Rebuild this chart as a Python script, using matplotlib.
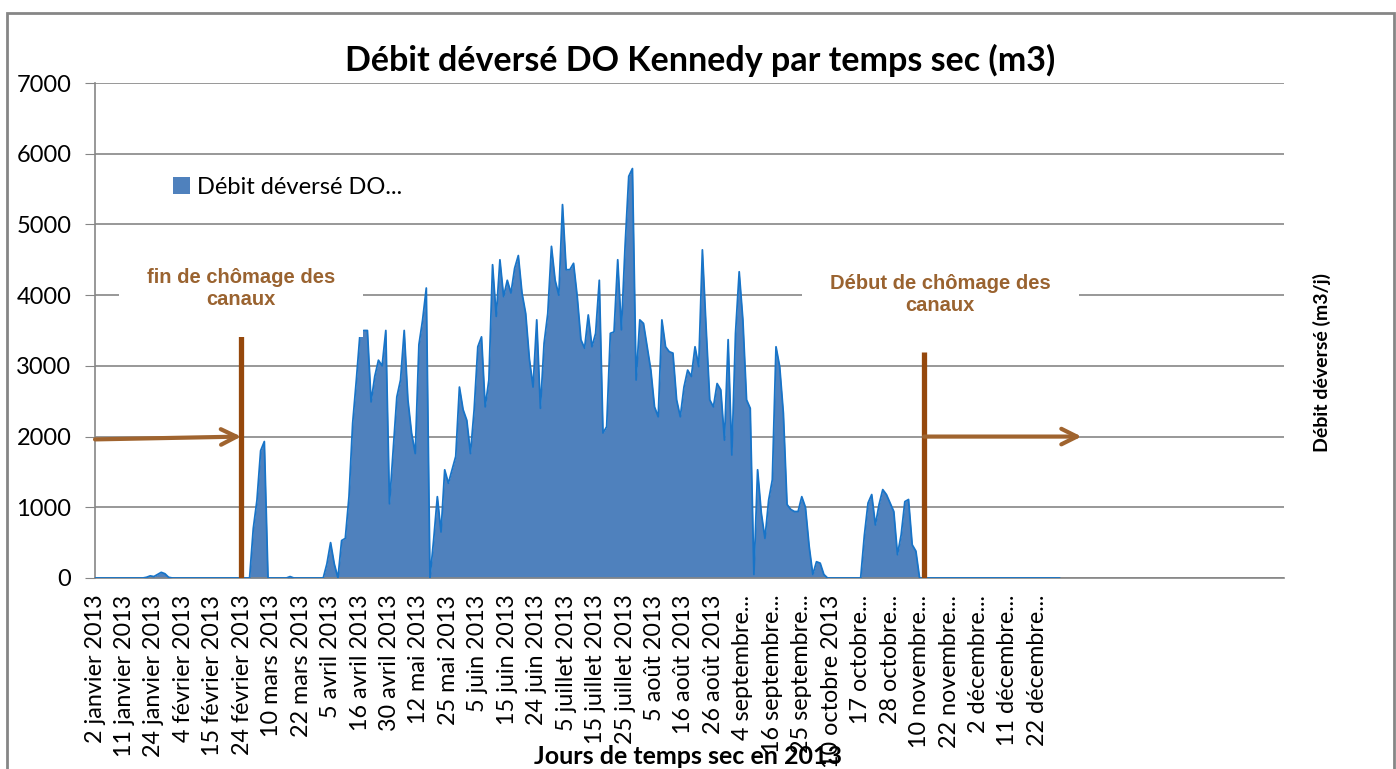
import matplotlib
matplotlib.use("Agg")
import matplotlib.pyplot as plt
from matplotlib.patches import Rectangle

# Débit déversé par jour de temps sec (m3/j), une valeur par jour sec
debit = [
    0, 0, 0, 0, 0, 0, 0, 0, 0, 0, 0, 0, 0, 0,
    10, 30, 20, 50, 80, 60, 10,
    0, 0, 0, 0, 0, 0, 0, 0, 0, 0, 0, 0, 0, 0, 0, 0, 0, 0, 0, 0, 0, 0,
    700, 1100, 1800, 1930,
    0, 0, 0, 0, 0, 0,
    20,
    0, 0, 0, 0, 0, 0, 0, 0, 0,
    200, 500, 200, 0, 530, 560, 1150, 2190, 2800, 3460, 3500, 3500, 2490, 2850,
    3080, 3000, 3500, 1050, 1810, 2560, 2800, 3500, 2520, 2050, 1760, 3300, 3650,
    4100, 0, 540, 1150, 650, 1530, 1340, 1530, 1720, 2700, 2380, 2230, 1760, 2380,
    3270, 3410, 2420, 2800, 4430, 3700, 4500, 3980, 4210, 4030, 4380, 4560, 4030,
    3740, 3100, 2700, 3650, 2400, 3320, 3740, 4690, 4210, 4000, 5280, 4360, 4360,
    4450, 3980, 3370, 3250, 3720, 3270, 3460, 4210, 2050, 2140, 3460, 3480, 4500,
    3510, 4690, 5680, 5790, 2800, 3650, 3600, 3270, 2940, 2420, 2280, 3650, 3270,
    3200, 3180, 2520, 2280, 2700, 2940, 2850, 3270, 2990, 4640, 3550, 2520, 2420,
    2750, 2660, 1950, 3370, 1740, 3460, 4330, 3650, 2520, 2400, 50, 1530, 920,
    560, 1100, 1390, 3270, 2990, 2330, 1040, 970, 940, 940, 1150, 1000, 450, 50,
    230, 210, 50,
    0, 0, 0, 0, 0, 0, 0, 0, 0, 0,
    600, 1060, 1180, 750, 1040, 1250, 1180, 1060, 940, 330, 610, 1080, 1110, 470, 380,
    0, 0, 0, 0, 0, 0, 0, 0, 0, 0, 0, 0, 0, 0, 0, 0, 0, 0, 0, 0,
    0, 0, 0, 0, 0, 0, 0, 0, 0, 0, 0, 0, 0, 0, 0, 0, 0, 0, 0,
]

# étiquettes affichées (une tous les 8 jours secs)
etiquettes = [
    "2 janvier 2013", "11 janvier 2013", "24 janvier 2013", "4 février 2013",
    "15 février 2013", "24 février 2013", "10 mars 2013", "22 mars 2013",
    "5 avril 2013", "16 avril 2013", "30 avril 2013", "12 mai 2013",
    "25 mai 2013", "5 juin 2013", "15 juin 2013", "24 juin 2013",
    "5 juillet 2013", "15 juillet 2013", "25 juillet 2013", "5 août 2013",
    "16 août 2013", "26 août 2013", "4 septembre...", "16 septembre...",
    "25 septembre...", "10 octobre 2013", "17 octobre...", "28 octobre...",
    "10 novembre...", "22 novembre...", "2 décembre...", "11 décembre...",
    "22 décembre...",
]
pas_etiquette = 8
nb_categories = 323

# repères chômage des canaux (indice du jour, hauteur du trait)
fin_chomage = (39.7, 3500)
debut_chomage = (225.2, 3200)

plt.rcParams['font.family'] = ['Lato', 'DejaVu Sans']

W, H = 1396, 769
fig = plt.figure(figsize=(W / 100, H / 100), dpi=100)
ax = fig.add_axes([95 / W, 1 - 578 / H, (1284 - 95) / W, (578 - 83) / H])

x = list(range(len(debit)))
aire = ax.fill_between(x, debit, 0, color='#4f81bd', lw=0, zorder=2)
ax.plot(x, debit, color='#1874c8', lw=1.3, zorder=3)

ax.set_xlim(0, nb_categories)
ax.set_ylim(0, 7000)
ax.set_yticks(range(0, 7001, 1000))
ax.yaxis.grid(True, color='#868686', lw=1.2, zorder=0)
ax.set_axisbelow(True)
for s in ['top', 'right']:
    ax.spines[s].set_visible(False)
for s in ['left', 'bottom']:
    ax.spines[s].set_color('#868686')
    ax.spines[s].set_linewidth(1.2)
ax.tick_params(axis='y', length=7, color='#868686', pad=10, labelsize=17)

pos = list(range(0, pas_etiquette * len(etiquettes), pas_etiquette))
ax.set_xticks(pos)
ax.set_xticklabels(etiquettes, rotation=90, fontsize=16.8)
ax.tick_params(axis='x', length=0, pad=12)

# légende
ax.legend(handles=[aire], labels=['Débit déversé DO...'], loc='center left',
          bbox_to_anchor=(173 / W, 1 - 187 / H), bbox_transform=fig.transFigure,
          frameon=False, fontsize=17, handlelength=0.7, handleheight=0.7,
          handletextpad=0.3, borderpad=0, borderaxespad=0)

# traits et flèches
trait = '#95480c'
fleche = '#a0642f'
ax.plot([fin_chomage[0]] * 2, [0, fin_chomage[1]], color=trait, lw=3.8, zorder=4,
        solid_capstyle='butt')
ax.plot([debut_chomage[0]] * 2, [0, debut_chomage[1]], color=trait, lw=3.8, zorder=4,
        solid_capstyle='butt')
ax.annotate('', xy=(fin_chomage[0], 2000), xytext=(0, 1960),
            arrowprops=dict(arrowstyle='->', color=fleche, lw=3, mutation_scale=28,
                            shrinkA=0, shrinkB=0), zorder=5)
ax.annotate('', xy=(268, 2000), xytext=(debut_chomage[0], 2000),
            arrowprops=dict(arrowstyle='->', color=fleche, lw=3, mutation_scale=28,
                            shrinkA=0, shrinkB=0), zorder=5)

# textes annotations
txt_style = dict(color='#9a6330', fontsize=14.5, fontweight='bold', ha='center',
                 va='center', family=['Liberation Sans', 'DejaVu Sans'],
                 linespacing=1.2, zorder=6,
                 bbox=dict(boxstyle='square,pad=1.4', fc='white', ec='none'))
ax.text(39.7, 4094, "fin de chômage des\ncanaux", **txt_style)
ax.text(229.6, 4009, "Début de chômage des\ncanaux", **txt_style)

# titres
fig.text(700 / W, 1 - 60 / H, "Débit déversé DO Kennedy par temps sec (m3)",
         ha='center', va='center', fontsize=24.5, fontweight='bold')
fig.text(688 / W, 1 - 757 / H, "Jours de temps sec en 2013",
         ha='center', va='center', fontsize=18, fontweight='bold')
fig.text(1322 / W, 1 - 362 / H, "Débit déversé (m3/j)", rotation=90,
         ha='center', va='center', fontsize=14, fontweight='bold')

# cadre du graphique
fig.patches.append(Rectangle((7 / W, -0.05), (1394 - 7) / W, 1.05 - 13 / H,
                             transform=fig.transFigure, fill=False,
                             ec='#868686', lw=2))

fig.savefig('out.png', dpi=100)
